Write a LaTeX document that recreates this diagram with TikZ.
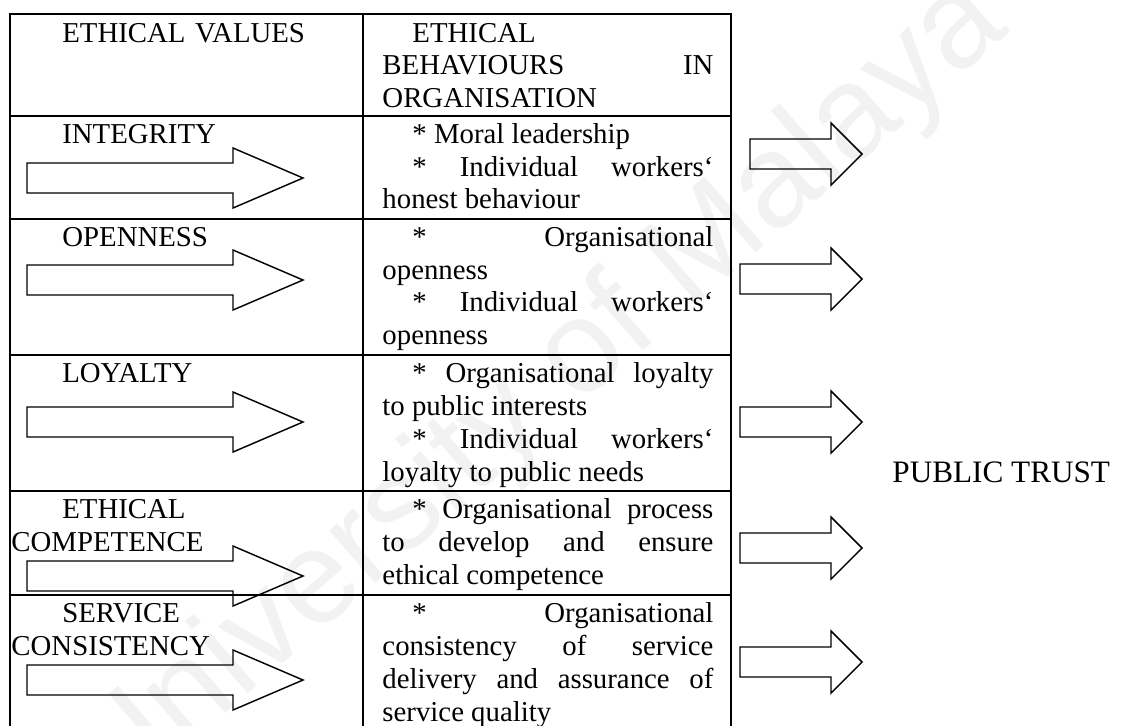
\documentclass[tikz,border=0pt]{standalone}
\usepackage{fontspec}
\setmainfont{Liberation Serif}
\setsansfont{Liberation Sans}
\frenchspacing
\tolerance=10000 \hbadness=10000 \hyphenpenalty=10000

\newcommand{\valindent}{\hspace*{21.2pt}}
\newcommand{\behindent}{\hspace*{12.5pt}}

\tikzset{
  rule/.style={line width=0.9pt, line cap=rect},
  blockarrow/.style={line width=0.6pt, line join=miter},
  value/.style={anchor=base west, text width=140pt, align=left},
  behaviour/.style={anchor=base west, text width=137.9pt, align=justify},
}

\begin{document}
\begin{tikzpicture}[x=0.4167pt, y=-0.4167pt,
  every node/.style={inner sep=0pt, font=\fontsize{12}{13.75}\selectfont}]
\useasboundingbox (0,0) rectangle (1122,725);
\clip (0,0) rectangle (1122,725);

% faint watermark behind everything
\node[rotate=41, text=black!5, font=\sffamily\fontsize{55}{55}\selectfont] (mark) at (540,395) {University of Malaya};

% table rules
\foreach \y in {14,116,219,355,491,595}
  \draw[rule] (10,\y) -- (731,\y);
\foreach \x in {10,363,731}
  \draw[rule] (\x,14) -- (\x,740);

% block arrows in the values column
\foreach \y in {178,280,422,576,680}
  \draw[blockarrow] (27,\y-15) -- (233,\y-15) -- (233,\y-30) -- (303,\y)
    -- (233,\y+30) -- (233,\y+15) -- (27,\y+15) -- cycle;

% block arrows towards public trust
\foreach \xs/\y in {750/154,740/279,740/422,740/548,740/662}
  \draw[blockarrow] (\xs,\y-15) -- (831,\y-15) -- (831,\y-31) -- (862,\y)
    -- (831,\y+31) -- (831,\y+15) -- (\xs,\y+15) -- cycle;

% values column
\node[value] (head1) at (11,42) {\valindent ETHICAL VALUES};
\node[value] (integrity) at (11,143) {\valindent INTEGRITY};
\node[value] (openness) at (11,246) {\valindent OPENNESS};
\node[value] (loyalty) at (11,382) {\valindent LOYALTY};
\node[value] (competence) at (11,518) {\valindent ETHICAL\newline COMPETENCE};
\node[value] (consistency) at (11,622) {\valindent SERVICE\newline CONSISTENCY};

% behaviours column
\node[behaviour] (head2) at (382,42)
  {\behindent ETHICAL\newline BEHAVIOURS IN\linebreak ORGANISATION};
\node[behaviour] (beh1) at (382,143)
  {\behindent * Moral leadership\par
   \behindent * Individual workers‘\linebreak honest behaviour};
\node[behaviour] (beh2) at (382,246)
  {\behindent * Organisational\linebreak openness\par
   \behindent * Individual workers‘\linebreak openness};
\node[behaviour] (beh3) at (382,382)
  {\behindent * Organisational loyalty\linebreak to public interests\par
   \behindent * Individual workers‘\linebreak loyalty to public needs};
\node[behaviour] (beh4) at (382,518)
  {\behindent * Organisational process\linebreak to develop and ensure\linebreak
   ethical competence};
\node[behaviour] (beh5) at (382,622)
  {\behindent * Organisational\linebreak consistency of service\linebreak
   delivery and assurance of\linebreak service quality};

\node[anchor=base west, font=\fontsize{13}{15}\selectfont] (trust) at (892,482) {PUBLIC TRUST};
\end{tikzpicture}
\end{document}
